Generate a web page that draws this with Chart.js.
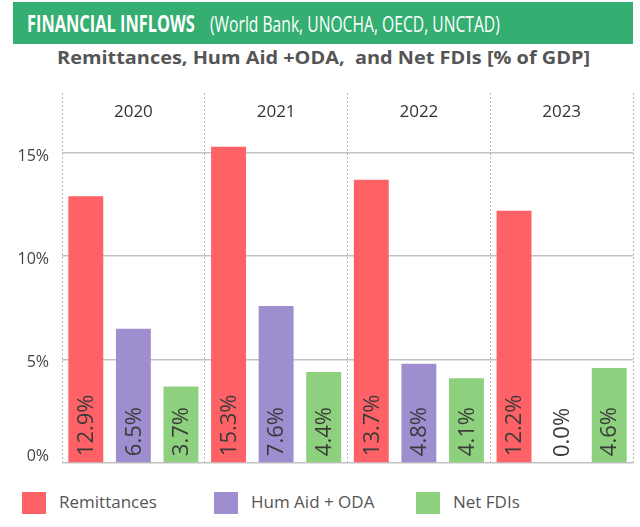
<!DOCTYPE html>
<html>
<head>
<meta charset="utf-8">
<script src="https://cdn.jsdelivr.net/npm/chart.js@4"></script>
<style>
  body { margin: 0; background: #fff; width: 640px; height: 527px; position: relative; overflow: hidden; font-family: "Open Sans", sans-serif; }
  #titulo { position: absolute; left: 13px; top: 2px; width: 620px; height: 42px; background: #34ae71; color: #fff; }
  .ajuste { position: absolute; white-space: nowrap; transform-origin: 0 50%; }
  #t1 { left: 14px; top: 0; line-height: 42px; font-size: 23px; font-weight: bold; }
  #t2 { left: 197px; top: 1px; line-height: 42px; font-size: 21px; }
  #subtitulo { left: 57px; top: 45px; font-size: 18px; font-weight: bold; color: #555; }
  #contenedor { position: absolute; left: 0; top: 80px; width: 640px; height: 400px; }
  .leyenda { position: absolute; top: 492px; font-size: 17px; color: #555; }
  .leyenda i { position: absolute; left: 0; top: 0; width: 24px; height: 22px; }
  .leyenda span { position: absolute; left: 37px; top: -1px; white-space: nowrap; line-height: 22px; }
</style>
</head>
<body>
<div id="titulo">
  <span id="t1" class="ajuste" data-ancho="168">FINANCIAL INFLOWS</span>
  <span id="t2" class="ajuste" data-ancho="290">(World Bank, UNOCHA, OECD, UNCTAD)</span>
</div>
<span id="subtitulo" class="ajuste" data-ancho="533">Remittances, Hum Aid +ODA,&nbsp; and Net FDIs [% of GDP]</span>
<div id="contenedor"><canvas id="grafico"></canvas></div>
<div class="leyenda" style="left:22px"><i style="background:#fe6266"></i><span>Remittances</span></div>
<div class="leyenda" style="left:214px"><i style="background:#9e8ecf"></i><span>Hum Aid + ODA</span></div>
<div class="leyenda" style="left:416px"><i style="background:#8dd17e"></i><span>Net FDIs</span></div>
<script>
// Datos (% del PIB)
const anios = ["2020", "2021", "2022", "2023"];
const remesas = [12.9, 15.3, 13.7, 12.2];
const ayudaOda = [6.5, 7.6, 4.8, 0.0];
const ieNetas = [3.7, 4.4, 4.1, 4.6];
const ticksY = [0, 5, 10, 15];

// Ajustar el ancho de los textos del encabezado al de la referencia
document.querySelectorAll(".ajuste").forEach((el) => {
    const objetivo = parseFloat(el.dataset.ancho);
    el.style.transform = "scaleX(" + (objetivo / el.offsetWidth) + ")";
});

// Etiquetas giradas dentro de cada barra
const etiquetasBarras = {
    id: "etiquetasBarras",
    afterDatasetsDraw(chart) {
        const ctx = chart.ctx;
        ctx.save();
        ctx.font = "22px 'Open Sans'";
        ctx.fillStyle = "#3a3a3a";
        ctx.textAlign = "left";
        ctx.textBaseline = "middle";
        chart.data.datasets.forEach((ds, i) => {
            chart.getDatasetMeta(i).data.forEach((bar, j) => {
                ctx.save();
                ctx.translate(bar.x + 1, bar.base - 6);
                ctx.rotate(-Math.PI / 2);
                ctx.fillText(ds.data[j].toFixed(1) + "%", 0, 0);
                ctx.restore();
            });
        });
        ctx.restore();
    }
};

// Años en la parte superior de cada columna
const cabeceraAnios = {
    id: "cabeceraAnios",
    afterDraw(chart) {
        const ctx = chart.ctx;
        const escalaX = chart.scales.x;
        ctx.save();
        ctx.font = "17px 'Open Sans'";
        ctx.fillStyle = "#333";
        ctx.textAlign = "center";
        ctx.textBaseline = "middle";
        anios.forEach((a, i) => {
            ctx.fillText(a, escalaX.getPixelForTick(i), chart.chartArea.top + 19);
        });
        ctx.restore();
    }
};

const ctx = document.getElementById("grafico").getContext("2d");
new Chart(ctx, {
    type: "bar",
    data: {
        labels: anios,
        datasets: [
            { label: "Remittances", data: remesas, backgroundColor: "#fe6266" },
            { label: "Hum Aid + ODA", data: ayudaOda, backgroundColor: "#9e8ecf" },
            { label: "Net FDIs", data: ieNetas, backgroundColor: "#8dd17e" }
        ]
    },
    options: {
        responsive: true,
        maintainAspectRatio: false,
        animation: false,
        categoryPercentage: 1.0,
        barPercentage: 0.734,
        layout: { autoPadding: false, padding: { top: 13, right: 7, bottom: 17, left: 0 } },
        plugins: { legend: { display: false }, tooltip: { enabled: false } },
        scales: {
            x: {
                ticks: { display: false },
                afterFit: (escala) => {
                    escala.height = 0;
                    escala.paddingLeft = 0;
                    escala.paddingRight = 0;
                },
                grid: { offset: true, drawTicks: false, color: "#b5b5b5", lineWidth: 1, borderDash: [2, 2] },
                border: { display: false, dash: [2, 2] }
            },
            y: {
                min: 0,
                max: 17.9,
                afterFit: (escala) => {
                    escala.width = 62;
                    escala.paddingTop = 0;
                    escala.paddingBottom = 0;
                },
                afterBuildTicks: (escala) => { escala.ticks = ticksY.map(v => ({ value: v })); },
                ticks: {
                    padding: 13,
                    color: "#444",
                    labelOffset: 3,
                    font: { family: "Open Sans", size: 16 },
                    callback: (v) => v === 0 ? ["0%", ""] : v + "%"
                },
                grid: { drawTicks: false, color: "#c2c2c2", lineWidth: 1.6 },
                border: { display: false }
            }
        }
    },
    plugins: [etiquetasBarras, cabeceraAnios]
});
</script>
</body>
</html>
